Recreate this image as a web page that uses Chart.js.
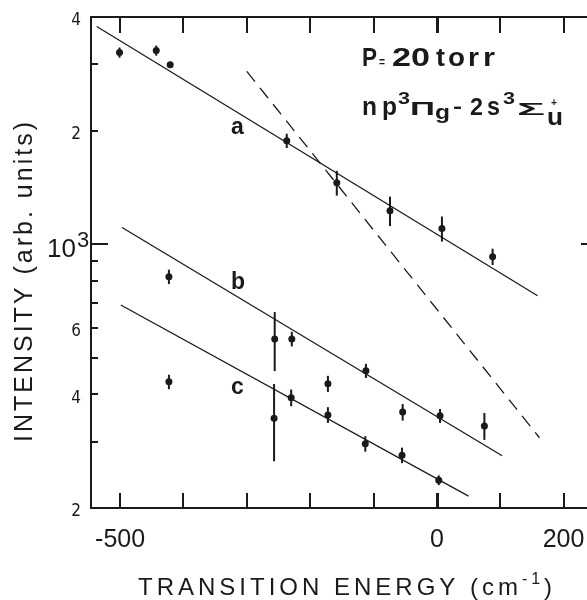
<!DOCTYPE html>
<html>
<head>
<meta charset="utf-8">
<script src="https://cdn.jsdelivr.net/npm/chart.js@4.4.1/dist/chart.umd.min.js"></script>
<style>
  html, body { margin: 0; padding: 0; background: #fff; }
  #wrap { width: 587px; height: 600px; position: relative; }
</style>
</head>
<body>
<div id="wrap"><canvas id="chart"></canvas></div>
<script>
// measured points, transition energy (cm-1) vs intensity (arb. units)
const aX = [-501, -443, -421, -237, -158, -74, 8, 88];
const aY = [3220, 3260, 2990, 1880, 1455, 1227, 1100, 927];
const aErr = [100, 100, 0, 82, 110, 110, 84, 46];

const bX = [-423, -256, -229, -172, -112, -54, 5, 75];
const bY = [820, 561, 561, 427, 462, 359, 351, 330];
const bErr = [36, 100, 25, 21, 20, 18, 15, 27];

const cX = [-423, -257, -230, -172, -113, -55, 3];
const cY = [432, 346, 392, 353, 296, 276, 237];
const cErr = [19, 80, 20, 17, 14, 13, 7];

// fitted straight lines (end points)
const fitAX = [-537, 159];
const fitAY = [3775, 730];
const fitBX = [-497, 103];
const fitBY = [1107, 275];
const fitCX = [-499, 50];
const fitCY = [690, 215];
const dashX = [-300, 162];
const dashY = [2870, 307];

// axes
const xTicks = [-500, -400, -300, -200, -100, 0, 100, 200];
const xLabelValues = [-500, 0, 200];
const xLabelText = ['-500', '0', '200'];
const yMinorTicks = [3000, 2000, 900, 800, 700, 600, 500, 400, 300];
const yLabelValues = [4000, 2000, 600, 400, 200];
const yLabelText = ['4', '2', '6', '4', '2'];

const INK = '#1a1a1a';

const toPts = (xs, ys) => xs.map((x, i) => ({ x: x, y: ys[i] }));

function pointSet(xs, ys, errs) {
    return {
        data: toPts(xs, ys),
        errors: errs,
        showLine: false,
        pointRadius: 3.5,
        pointBackgroundColor: INK,
        pointBorderColor: INK,
        pointBorderWidth: 0
    };
}

function lineSet(xs, ys, dash) {
    return {
        data: toPts(xs, ys),
        showLine: true,
        pointRadius: 0,
        borderColor: INK,
        borderWidth: 1.3,
        borderDash: dash || [],
        fill: false
    };
}

// text pieces placed at offsets from (x, y); w squeezes/stretches a piece to that width
function drawParts(ctx, x, y, parts) {
    for (const p of parts) {
        ctx.font = p.f;
        const sx = p.w ? p.w / ctx.measureText(p.t).width : 1;
        ctx.save();
        ctx.translate(x + p.at, y + (p.dy || 0));
        ctx.scale(sx, 1);
        ctx.fillText(p.t, 0, 0);
        ctx.restore();
    }
}

const errorBars = {
    id: 'errorBars',
    afterDatasetsDraw(chart) {
        const ctx = chart.ctx, xs = chart.scales.x, ys = chart.scales.y;
        ctx.save();
        ctx.strokeStyle = INK;
        ctx.lineWidth = 2;
        chart.data.datasets.forEach(ds => {
            if (!ds.errors) return;
            ds.data.forEach((p, i) => {
                const e = ds.errors[i];
                if (!e) return;
                const px = xs.getPixelForValue(p.x);
                ctx.beginPath();
                ctx.moveTo(px, ys.getPixelForValue(p.y + e));
                ctx.lineTo(px, ys.getPixelForValue(p.y - e));
                ctx.stroke();
            });
        });
        ctx.restore();
    }
};

// frame and inward ticks
const axisTicks = {
    id: 'axisTicks',
    afterDraw(chart) {
        const ctx = chart.ctx, xs = chart.scales.x, ys = chart.scales.y;
        const a = chart.chartArea;
        ctx.save();
        ctx.fillStyle = INK;
        ctx.fillRect(a.left - 1, a.top - 1, a.right - a.left + 2, 2);
        ctx.fillRect(a.left - 1, a.top - 1, 2, a.bottom - a.top + 2);
        ctx.fillRect(a.left - 1, a.bottom - 1, a.right - a.left + 2, 2);
        xTicks.forEach(v => {
            const px = Math.round(xs.getPixelForValue(v));
            const w = v === 0 ? 3 : 2;
            ctx.fillRect(px - 1, a.bottom - 15, w, 15);
            ctx.fillRect(px - 1, a.top, w, 16);
        });
        yMinorTicks.forEach(v => {
            const py = Math.round(ys.getPixelForValue(v));
            ctx.fillRect(a.left, py - 1, 7, 2);
        });
        const p3 = Math.round(ys.getPixelForValue(1000));
        ctx.fillRect(a.left, p3 - 1, 17, 2);
        ctx.fillRect(a.right - 6, p3 - 1, 6, 2);
        ctx.restore();
    }
};

const texts = {
    id: 'texts',
    afterDraw(chart) {
        const ctx = chart.ctx, xs = chart.scales.x, ys = chart.scales.y;
        const a = chart.chartArea;
        ctx.save();
        ctx.fillStyle = INK;

        // y tick labels
        ctx.textAlign = 'right';
        ctx.textBaseline = 'middle';
        ctx.font = '17px "Liberation Sans Narrow", "DejaVu Sans Condensed", sans-serif';
        yLabelValues.forEach((v, i) => {
            ctx.fillText(yLabelText[i], a.left - 10, ys.getPixelForValue(v) + 4);
        });
        ctx.textAlign = 'left';
        ctx.textBaseline = 'alphabetic';
        const p3 = ys.getPixelForValue(1000);
        drawParts(ctx, a.left - 44, p3 + 13, [
            { t: '10', f: '26px "Liberation Sans", sans-serif', at: 0 },
            { t: '3', f: '22px "Liberation Sans", sans-serif', at: 30, dy: -10 }
        ]);

        // x tick labels
        ctx.textAlign = 'center';
        ctx.font = '25px "Liberation Sans", sans-serif';
        xLabelValues.forEach((v, i) => {
            ctx.fillText(xLabelText[i], xs.getPixelForValue(v), a.bottom + 39);
        });

        // x title
        ctx.textAlign = 'left';
        ctx.letterSpacing = '4px';
        ctx.font = '24px "Liberation Sans", sans-serif';
        const tw = ctx.measureText('TRANSITION ENERGY (cm').width;
        drawParts(ctx, 138, 595, [
            { t: 'TRANSITION ENERGY (cm', f: '24px "Liberation Sans", sans-serif', at: 0 },
            { t: '-1', f: '16px "Liberation Sans", sans-serif', at: tw, dy: -11 },
            { t: ')', f: '24px "Liberation Sans", sans-serif', at: tw + 22 }
        ]);

        // y title
        ctx.save();
        ctx.translate(32, 442);
        ctx.rotate(-Math.PI / 2);
        ctx.letterSpacing = '3px';
        ctx.font = '25px "Liberation Sans", sans-serif';
        ctx.fillText('INTENSITY (arb. units)', 0, 0);
        ctx.restore();

        // annotations
        ctx.letterSpacing = '0px';
        const bold = s => 'bold ' + s + 'px "Liberation Sans", sans-serif';
        drawParts(ctx, 362, 66, [
            { t: 'P', f: bold(26), at: 0, w: 15 },
            { t: '=', f: bold(13), at: 17, w: 6 },
            { t: '20', f: bold(25), at: 30, w: 38 },
            { t: 't', f: bold(25), at: 74, w: 9 },
            { t: 'o', f: bold(25), at: 86, w: 17 },
            { t: 'r', f: bold(25), at: 106, w: 11 },
            { t: 'r', f: bold(25), at: 121, w: 12 }
        ]);
        drawParts(ctx, 362, 115, [
            { t: 'n', f: bold(25), at: 0, w: 15 },
            { t: 'p', f: bold(25), at: 20, w: 15 },
            { t: '3', f: bold(17), at: 36, dy: -11, w: 12 },
            { t: 'Π', f: bold(18), at: 48, w: 25 },
            { t: 'g', f: bold(20), at: 73, dy: 4, w: 15 },
            { t: '-', f: bold(20), at: 91, dy: -2, w: 9 },
            { t: '2', f: bold(24), at: 108, w: 13 },
            { t: 's', f: bold(25), at: 125, w: 13 },
            { t: '3', f: bold(17), at: 141, dy: -11, w: 12 },
            { t: 'Σ', f: bold(17), at: 155, w: 28 },
            { t: '+', f: bold(10), at: 189, dy: -9, w: 6 },
            { t: 'u', f: bold(24), at: 185, dy: 10, w: 16 }
        ]);
        ctx.font = bold(23);
        ctx.fillText('a', xs.getPixelForValue(-325), ys.getPixelForValue(1960));
        ctx.fillText('b', xs.getPixelForValue(-325), ys.getPixelForValue(760));
        ctx.fillText('c', xs.getPixelForValue(-325), ys.getPixelForValue(400));

        ctx.restore();
    }
};

new Chart(document.getElementById('chart'), {
    type: 'scatter',
    data: {
        datasets: [
            lineSet(fitAX, fitAY),
            lineSet(fitBX, fitBY),
            lineSet(fitCX, fitCY),
            lineSet(dashX, dashY, [13, 8]),
            pointSet(aX, aY, aErr),
            pointSet(bX, bY, bErr),
            pointSet(cX, cY, cErr)
        ]
    },
    options: {
        responsive: true,
        maintainAspectRatio: false,
        animation: false,
        layout: { autoPadding: false, padding: { left: 91, top: 17, right: 0, bottom: 92 } },
        scales: {
            x: { type: 'linear', min: -546, max: 237, display: false },
            y: { type: 'logarithmic', min: 200, max: 4000, display: false }
        },
        plugins: {
            legend: { display: false },
            tooltip: { enabled: false }
        }
    },
    plugins: [errorBars, axisTicks, texts]
});
</script>
</body>
</html>
